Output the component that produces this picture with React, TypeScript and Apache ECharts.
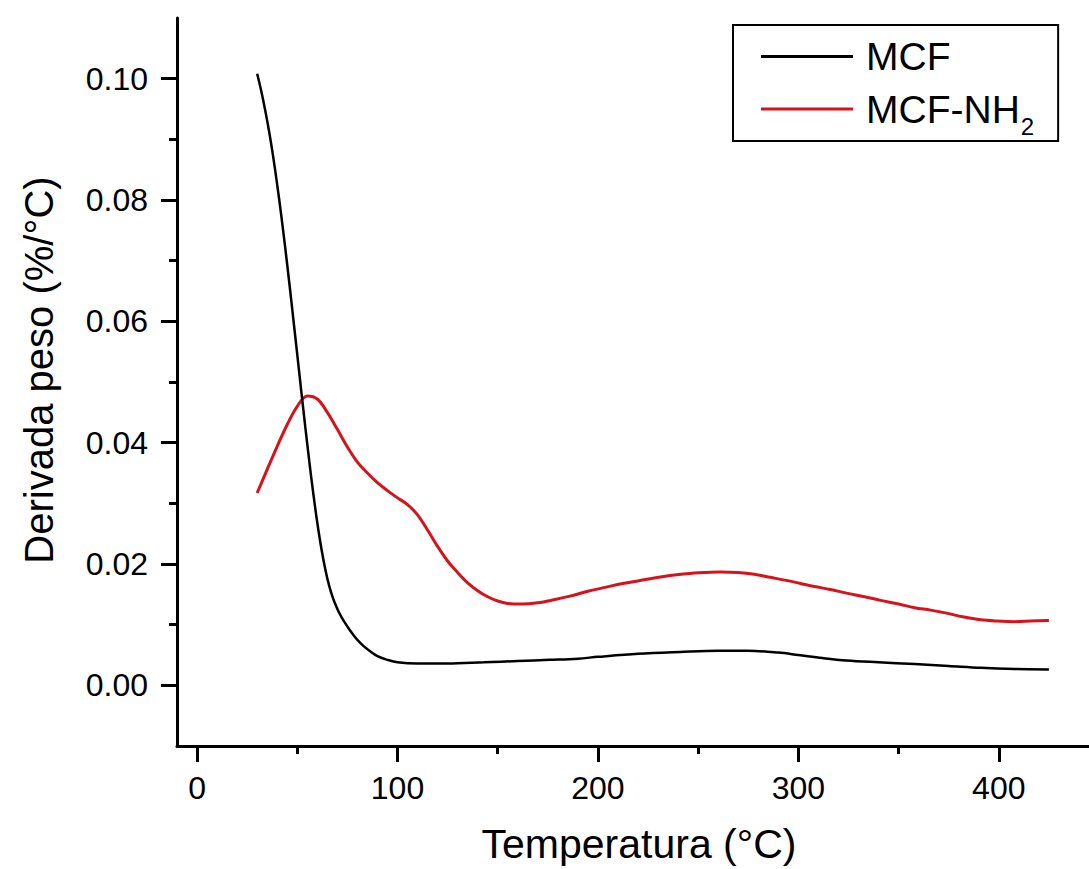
import React, { useEffect, useRef } from "react";
import * as echarts from "echarts";

const mcfTemp = [30, 32, 34, 36, 38, 40, 42, 44, 46, 48, 50, 52, 54, 56, 58, 60, 62, 64, 66, 68, 70, 72, 74, 76, 78, 80, 83, 86, 90, 95, 100, 110, 125, 143, 160, 176, 190, 200, 220, 241, 260, 275, 290, 300, 312, 324, 340, 358, 375, 391, 408, 425];
const mcfValues = [0.1008, 0.098, 0.0948, 0.0912, 0.0871, 0.0825, 0.0775, 0.0721, 0.0664, 0.0605, 0.0545, 0.0485, 0.0426, 0.0369, 0.0316, 0.0268, 0.0226, 0.0191, 0.0163, 0.0142, 0.0126, 0.0113, 0.0102, 0.0092, 0.0083, 0.0075, 0.0065, 0.0057, 0.0048, 0.0042, 0.0038, 0.0036, 0.0036, 0.0038, 0.004, 0.0042, 0.0044, 0.0047, 0.0052, 0.0055, 0.0057, 0.0057, 0.0054, 0.005, 0.0045, 0.0041, 0.0038, 0.0035, 0.0032, 0.0029, 0.0027, 0.0026];

const nh2Temp = [30, 35, 40, 45, 50, 55, 60, 65, 70, 75, 80, 85, 90, 95, 100, 105, 110, 115, 120, 125, 130, 135, 140, 145, 150, 155, 162, 170, 178, 186, 195, 203, 211, 220, 228, 236, 244, 253, 261, 270, 278, 286, 294, 301, 308, 316, 324, 333, 341, 350, 358, 366, 374, 382, 391, 399, 408, 416, 425];
const nh2Values = [0.0317, 0.0356, 0.0394, 0.043, 0.046, 0.0477, 0.0472, 0.045, 0.0422, 0.0393, 0.0368, 0.035, 0.0334, 0.0321, 0.0309, 0.0298, 0.0281, 0.0256, 0.0229, 0.0205, 0.0186, 0.0169, 0.0156, 0.0146, 0.0139, 0.0135, 0.0134, 0.0136, 0.0141, 0.0147, 0.0155, 0.0161, 0.0167, 0.0172, 0.0177, 0.0181, 0.0184, 0.0186, 0.0187, 0.0186, 0.0183, 0.0178, 0.0173, 0.0168, 0.0163, 0.0158, 0.0152, 0.0146, 0.014, 0.0134, 0.0128, 0.0124, 0.0119, 0.0113, 0.0108, 0.0106, 0.0105, 0.0106, 0.0107];

const xMajorTicks = [0, 100, 200, 300, 400];
const xMinorTicks = [50, 150, 250, 350];
const yMajorTicks = [0, 0.02, 0.04, 0.06, 0.08, 0.1];
const yMinorTicks = [0.01, 0.03, 0.05, 0.07, 0.09];

const FONT = "'Liberation Sans', Arial, sans-serif";

export default function App() {
  const ref = useRef<HTMLDivElement>(null);
  useEffect(() => {
    if (!ref.current) return;
    const chart = echarts.init(ref.current, null, { renderer: "svg" });
    const toPairs = (xs: number[], ys: number[]) => xs.map((x, i) => [x, ys[i]]);
    const xBase = { type: "value", min: -10, max: 445, splitLine: { show: false } };
    const yBase = { type: "value", min: -0.01, max: 0.11, splitLine: { show: false } };
    chart.setOption({
      animation: false,
      backgroundColor: "#fff",
      grid: { left: 177, right: 0, top: 18, bottom: 123, containLabel: false },
      legend: {
        orient: "vertical",
        left: 733,
        top: 25,
        padding: [12, 24, 3, 28],
        borderColor: "#000",
        borderWidth: 2,
        itemWidth: 92,
        itemHeight: 3,
        itemGap: 11,
        icon: "rect",
        selectedMode: false,
        data: ["MCF", "MCF-NH2"],
        formatter: (name: string) => (name === "MCF-NH2" ? "{b|MCF-NH}{s|2}" : "{b|MCF}"),
        textStyle: {
          fontFamily: FONT,
          color: "#000",
          fontSize: 39,
          rich: {
            b: { fontFamily: FONT, fontSize: 39, lineHeight: 44, color: "#000", padding: [0, 0, 0, 8] },
            s: { fontFamily: FONT, fontSize: 24, lineHeight: 24, color: "#000", verticalAlign: "top", padding: [27, 0, 0, 1] },
          },
        },
      },
      xAxis: [
        {
          ...xBase,
          position: "bottom",
          name: "Temperatura (°C)",
          nameLocation: "middle",
          nameGap: 77,
          nameTextStyle: { fontFamily: FONT, fontSize: 41, color: "#000", padding: [0, 0, 0, 12] },
          axisLine: { show: true, onZero: false, lineStyle: { color: "#000", width: 3 } },
          axisTick: { show: true, inside: false, length: 16, customValues: xMajorTicks, lineStyle: { color: "#000", width: 3 } },
          axisLabel: { show: true, customValues: xMajorTicks, margin: 26, fontFamily: FONT, fontSize: 32, color: "#000" },
        },
        {
          ...xBase,
          position: "bottom",
          axisLine: { show: false, onZero: false },
          axisTick: { show: true, inside: false, length: 8, customValues: xMinorTicks, lineStyle: { color: "#000", width: 3 } },
          axisLabel: { show: false },
        },
      ],
      yAxis: [
        {
          ...yBase,
          position: "left",
          name: "Derivada peso (%/°C)",
          nameLocation: "middle",
          nameGap: 118,
          nameTextStyle: { fontFamily: FONT, fontSize: 40, color: "#000", padding: [0, 0, 0, 24] },
          axisLine: { show: true, onZero: false, lineStyle: { color: "#000", width: 3 } },
          axisTick: { show: true, inside: false, length: 16, customValues: yMajorTicks, lineStyle: { color: "#000", width: 3 } },
          axisLabel: {
            show: true,
            customValues: yMajorTicks,
            margin: 29,
            fontFamily: FONT,
            fontSize: 32,
            color: "#000",
            formatter: (v: number) => v.toFixed(2),
          },
        },
        {
          ...yBase,
          position: "left",
          axisLine: { show: false, onZero: false },
          axisTick: { show: true, inside: false, length: 8, customValues: yMinorTicks, lineStyle: { color: "#000", width: 3 } },
          axisLabel: { show: false },
        },
      ],
      series: [
        {
          name: "MCF",
          type: "line",
          xAxisIndex: 0,
          yAxisIndex: 0,
          data: toPairs(mcfTemp, mcfValues),
          showSymbol: false,
          symbol: "none",
          smooth: 0.35,
          color: "#000",
          lineStyle: { color: "#000", width: 2.5 },
          z: 3,
        },
        {
          name: "MCF-NH2",
          type: "line",
          xAxisIndex: 0,
          yAxisIndex: 0,
          data: toPairs(nh2Temp, nh2Values),
          showSymbol: false,
          symbol: "none",
          smooth: 0.35,
          color: "#d8121b",
          lineStyle: { color: "#d8121b", width: 3 },
          z: 2,
        },
      ],
    });
    return () => chart.dispose();
  }, []);
  return (
    <div
      ref={ref}
      style={{ position: "fixed", left: 0, top: 0, width: 1089, height: 869, background: "#fff" }}
    />
  );
}
